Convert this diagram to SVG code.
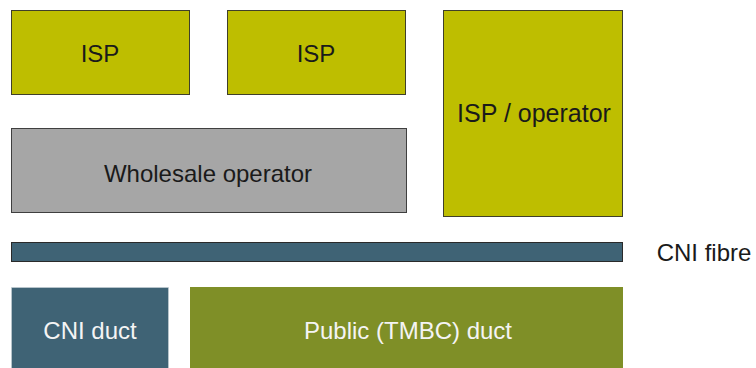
<svg xmlns="http://www.w3.org/2000/svg" width="756" height="368" viewBox="0 0 756 368">
<style>
.t{font-family:"Liberation Sans",Arial,sans-serif;font-size:24px;text-anchor:middle}
.isp{fill:#bebe00;stroke:#3f3f2a;stroke-width:1}
.dark{fill:#1a1a1a}
.light{fill:#f4f4f4}
</style>
<rect width="756" height="368" fill="#ffffff"/>
<g id="isp1"><rect class="isp" x="11.5" y="10.5" width="178" height="84"/><text class="t dark" x="100" y="62">ISP</text></g>
<g id="isp2"><rect class="isp" x="227.5" y="10.5" width="178" height="84"/><text class="t dark" x="316" y="62">ISP</text></g>
<g id="isp-operator"><rect class="isp" x="443.5" y="10.5" width="179" height="206"/><text class="t dark" x="534" y="122" style="font-size:25px">ISP / operator</text></g>
<g id="wholesale"><rect x="11.5" y="128.5" width="395" height="84" fill="#a6a6a6" stroke="#3f3f3f"/><text class="t dark" x="208" y="181.5">Wholesale operator</text></g>
<g id="cni-fibre"><rect x="11.5" y="242.5" width="611" height="19" fill="#3f6375" stroke="#2a2a2a"/><text class="t dark" x="704" y="261">CNI fibre</text></g>
<g id="cni-duct"><rect x="11.5" y="287.5" width="157" height="82" fill="#3f6375" stroke="#c9d3d8" stroke-width="0.6"/><text class="t light" x="90" y="339">CNI duct</text></g>
<g id="public-duct"><rect x="190" y="287" width="433" height="82" fill="#7f8f27"/><text class="t light" x="408" y="339">Public (TMBC) duct</text></g>
<g id="connectors"/>
</svg>
